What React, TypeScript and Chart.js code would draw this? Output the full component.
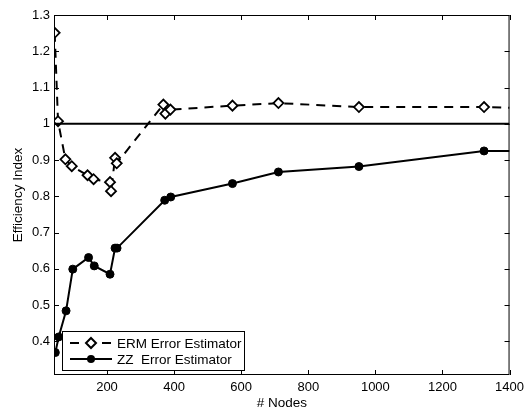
import React, { useEffect, useRef } from 'react';
import { Chart, registerables } from 'chart.js';

Chart.register(...registerables);

// ---- data ----
const ermNodes = [44, 54, 76, 95, 142, 160, 209, 212, 224, 229, 368, 374, 389, 574, 711, 951, 1324, 1400];
const ermValues = [1.251, 1.007, 0.902, 0.883, 0.858, 0.847, 0.839, 0.814, 0.906, 0.891, 1.053, 1.028, 1.039, 1.05, 1.057, 1.046, 1.046, 1.044];
const zzNodes = [46, 56, 78, 98, 145, 162, 209, 224, 230, 372, 390, 574, 711, 951, 1324, 1400];
const zzValues = [0.369, 0.412, 0.484, 0.599, 0.631, 0.608, 0.585, 0.657, 0.657, 0.789, 0.798, 0.835, 0.867, 0.882, 0.925, 0.925];
const referenceLevel = 1;
const xTicks = [200, 400, 600, 800, 1000, 1200, 1400];
const yTicks = [0.4, 0.5, 0.6, 0.7, 0.8, 0.9, 1.0, 1.1, 1.2, 1.3];
const xRange = [42, 1400];
const yRange = [0.307, 1.3];
const legendLabels = ['ERM Error Estimator', 'ZZ  Error Estimator'];
const xTitle = '# Nodes';
const yTitle = 'Efficiency Index';

const FONT = '"Liberation Sans", Arial, Helvetica, sans-serif';

function drawDiamond(ctx: CanvasRenderingContext2D, x: number, y: number, r: number) {
  ctx.beginPath();
  ctx.moveTo(x, y - r);
  ctx.lineTo(x + r, y);
  ctx.lineTo(x, y + r);
  ctx.lineTo(x - r, y);
  ctx.closePath();
  ctx.fillStyle = '#fff';
  ctx.fill();
  ctx.stroke();
}

const frameAndLegend = {
  id: 'frameAndLegend',
  afterDraw(chart: any) {
    const { ctx, chartArea } = chart;
    const xs = chart.scales.x;
    const ys = chart.scales.y;
    ctx.save();
    ctx.strokeStyle = '#000';
    ctx.lineWidth = 1;
    ctx.setLineDash([]);
    // box
    ctx.strokeRect(chartArea.left + 0.5, chartArea.top + 0.5, chartArea.right - chartArea.left - 1, chartArea.bottom - chartArea.top - 1);
    // inward ticks
    const tl = 5;
    ctx.beginPath();
    xTicks.forEach((v) => {
      const px = Math.round(xs.getPixelForValue(v)) + 0.5;
      ctx.moveTo(px, chartArea.bottom);
      ctx.lineTo(px, chartArea.bottom - tl);
      ctx.moveTo(px, chartArea.top);
      ctx.lineTo(px, chartArea.top + tl);
    });
    yTicks.forEach((v) => {
      const py = Math.round(ys.getPixelForValue(v)) + 0.5;
      ctx.moveTo(chartArea.left, py);
      ctx.lineTo(chartArea.left + tl, py);
      ctx.moveTo(chartArea.right, py);
      ctx.lineTo(chartArea.right - tl, py);
    });
    ctx.stroke();

    // legend
    const bx = chartArea.left + 8;
    const by = chartArea.bottom - 44;
    const bw = 182;
    const bh = 39;
    ctx.fillStyle = '#fff';
    ctx.fillRect(bx, by, bw, bh);
    ctx.strokeRect(bx + 0.5, by + 0.5, bw, bh);
    const rows = [by + 12, by + 28];
    const l0 = bx + 8;
    const l1 = bx + 50;
    const mid = (l0 + l1) / 2;
    ctx.lineWidth = 2;
    // ERM row
    ctx.setLineDash([9, 7]);
    ctx.beginPath();
    ctx.moveTo(l0, rows[0]);
    ctx.lineTo(l1, rows[0]);
    ctx.stroke();
    ctx.setLineDash([]);
    drawDiamond(ctx, mid, rows[0], 5);
    // ZZ row
    ctx.beginPath();
    ctx.moveTo(l0, rows[1]);
    ctx.lineTo(l1, rows[1]);
    ctx.stroke();
    ctx.beginPath();
    ctx.arc(mid, rows[1], 4, 0, Math.PI * 2);
    ctx.fillStyle = '#000';
    ctx.fill();
    // texts
    ctx.fillStyle = '#000';
    ctx.font = `13.5px ${FONT}`;
    ctx.textBaseline = 'middle';
    ctx.textAlign = 'left';
    ctx.fillText(legendLabels[0], l1 + 5, rows[0] + 1);
    ctx.fillText(legendLabels[1], l1 + 5, rows[1] + 1);
    ctx.restore();
  },
};

export default function App() {
  const ref = useRef<HTMLCanvasElement>(null);
  useEffect(() => {
    if (!ref.current) return;
    const chart = new Chart(ref.current, {
      type: 'line',
      data: {
        datasets: [
          {
            label: 'reference',
            data: xRange.map((x) => ({ x, y: referenceLevel })),
            borderColor: '#000',
            borderWidth: 2,
            pointRadius: 0,
            fill: false,
          },
          {
            label: legendLabels[0],
            data: ermNodes.map((x, i) => ({ x, y: ermValues[i] })),
            borderColor: '#000',
            borderWidth: 2,
            borderDash: [9, 7],
            pointStyle: 'rectRot',
            pointRadius: ermNodes.map((x) => (x >= xRange[1] ? 0 : 5)),
            pointBackgroundColor: '#fff',
            pointBorderColor: '#000',
            pointBorderWidth: 1.8,
            fill: false,
          },
          {
            label: legendLabels[1],
            data: zzNodes.map((x, i) => ({ x, y: zzValues[i] })),
            borderColor: '#000',
            borderWidth: 2,
            pointStyle: 'circle',
            pointRadius: zzNodes.map((x) => (x >= xRange[1] ? 0 : 4)),
            pointBackgroundColor: '#000',
            pointBorderColor: '#000',
            pointBorderWidth: 1,
            fill: false,
          },
        ],
      },
      options: {
        animation: false,
        responsive: false,
        devicePixelRatio: 1,
        layout: { padding: { top: 15, right: 13, left: 0, bottom: 0 } },
        plugins: { legend: { display: false }, tooltip: { enabled: false } },
        scales: {
          x: {
            type: 'linear',
            min: xRange[0],
            max: xRange[1],
            grid: { display: false, drawTicks: false },
            border: { display: false },
            afterBuildTicks: (scale: any) => {
              scale.ticks = xTicks.map((v) => ({ value: v }));
            },
            afterFit: (scale: any) => {
              scale.height = 37;
            },
            ticks: {
              color: '#000',
              font: { family: FONT, size: 13 },
              padding: 5,
              maxRotation: 0,
              autoSkip: false,
              callback: (v: any) => String(v),
            },
            title: {
              display: true,
              text: xTitle,
              color: '#000',
              font: { family: FONT, size: 13.5 },
              padding: { top: 0, bottom: 1 },
            },
          },
          y: {
            type: 'linear',
            min: yRange[0],
            max: yRange[1],
            grid: { display: false, drawTicks: false },
            border: { display: false },
            afterBuildTicks: (scale: any) => {
              scale.ticks = yTicks.map((v) => ({ value: v }));
            },
            afterFit: (scale: any) => {
              scale.width = 54;
            },
            ticks: {
              color: '#000',
              font: { family: FONT, size: 13 },
              padding: 4,
              autoSkip: false,
              callback: (v: any) => String(Math.round(Number(v) * 10) / 10),
            },
            title: {
              display: true,
              text: yTitle,
              color: '#000',
              font: { family: FONT, size: 13.5 },
              padding: { top: 10, bottom: 0 },
            },
          },
        },
      },
      plugins: [frameAndLegend],
    } as any);
    return () => chart.destroy();
  }, []);
  return (
    <div style={{ position: 'absolute', left: 0, top: 0, width: 529, height: 412, background: '#fff' }}>
      <canvas ref={ref} width={529} height={412} style={{ display: 'block' }} />
    </div>
  );
}
